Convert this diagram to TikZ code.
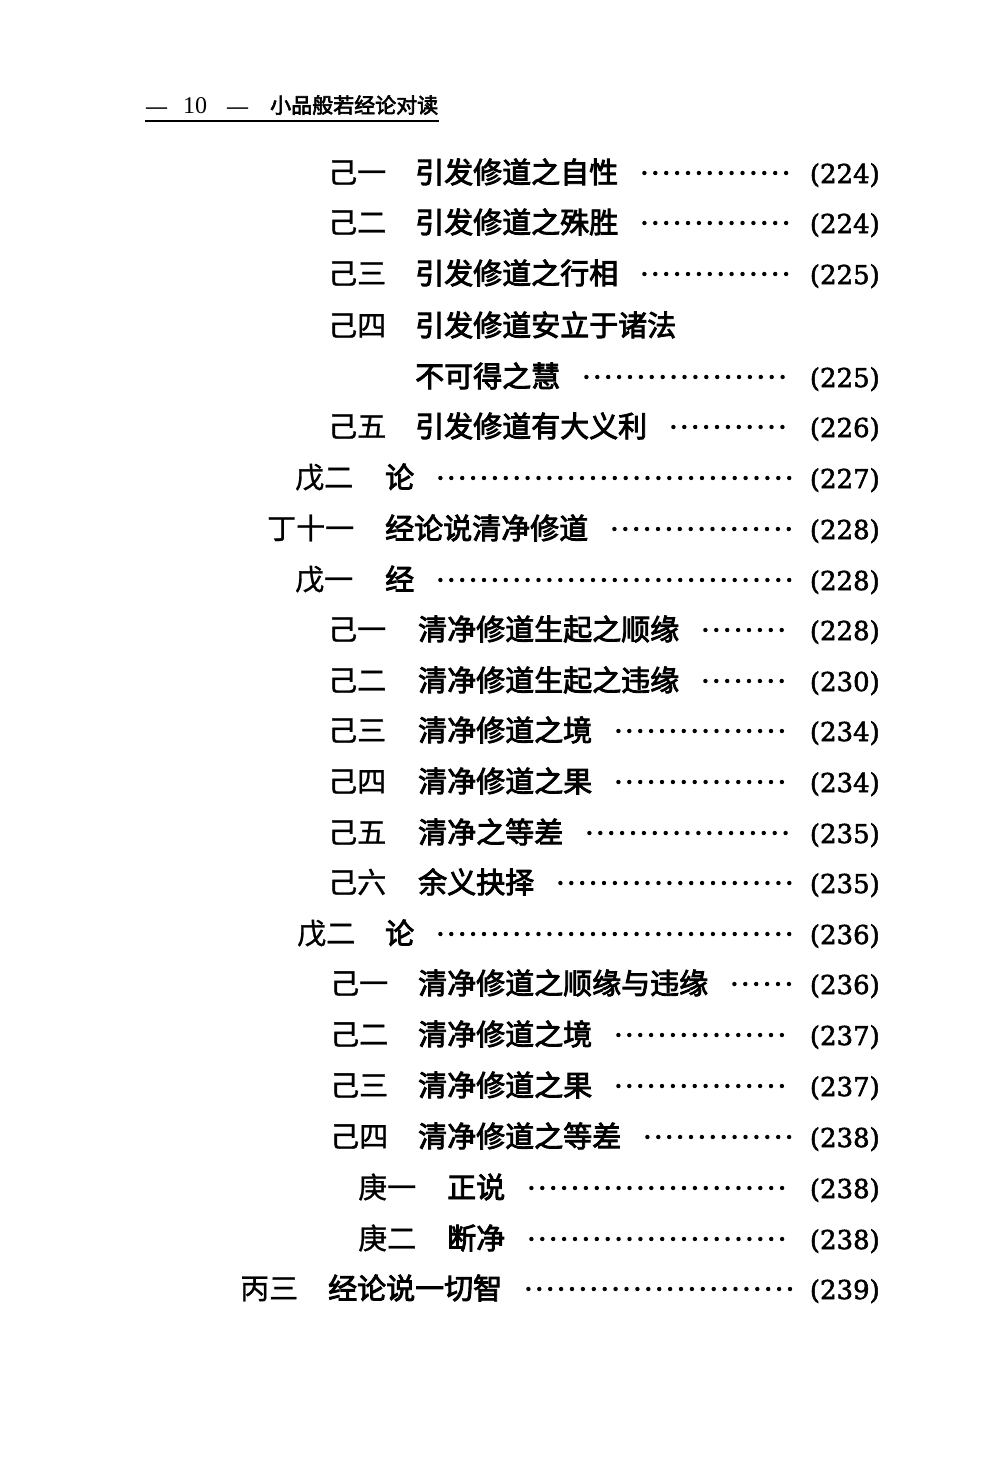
\documentclass[tikz,border=0pt]{standalone}
\usepackage{fontspec}
\setmainfont{Liberation Serif}
\newfontfamily\cjk[FakeBold=1]{Noto Sans CJK SC}
\newfontfamily\cjkt[FakeBold=3]{Noto Sans CJK SC}
\newfontfamily\numfont[FakeBold=2]{DejaVu Serif}
\usetikzlibrary{calc}

\tikzset{
  lab/.style={anchor=base west,inner sep=0pt,font=\cjk\fontsize{29}{29}\selectfont},
  tit/.style={anchor=base west,inner sep=0pt,font=\cjkt\fontsize{29}{29}\selectfont},
  pg/.style={anchor=base east,inner sep=0pt,font=\numfont\fontsize{26}{26}\selectfont},
  hd/.style={anchor=base west,inner sep=0pt,font=\bfseries\fontsize{21}{21}\selectfont},
  hdnum/.style={anchor=base west,inner sep=0pt,font=\fontsize{24}{24}\selectfont},
  hdtit/.style={anchor=base west,inner sep=0pt,font=\cjkt\fontsize{21}{21}\selectfont},
  leader/.style={line width=4.4pt,line cap=round,dash pattern=on 0pt off 10.9pt},
}

\begin{document}
\begin{tikzpicture}[x=1pt,y=-1pt]
\useasboundingbox[fill=white] (0,0) rectangle (982,1464);

% running head
\node[hd] (hdA) at (146,113) {—};
\node[hdnum] (hdN) at (183,113) {10};
\node[hd] (hdB) at (227,113) {—};
\node[hdtit] (hdT) at (270,113) {小品般若经论对读};
\draw[line width=2.5pt] ($(hdA.base west)+(-1,8)$) -- ($(hdT.base east)+(1,8)$);

% 己 entries, first group
\node[lab] (L1) at (328,183) {己一};
\node[tit] (T1) at (415,183) {引发修道之自性};
\node[pg] (P1) at (880,183) {(224)};
\draw[leader] ($(T1.base east)+(26,-10)$) -- ($(P1.base west)+(-18,-10)$);

\node[lab] (L2) at (328,233) {己二};
\node[tit] (T2) at (415,233) {引发修道之殊胜};
\node[pg] (P2) at (880,233) {(224)};
\draw[leader] ($(T2.base east)+(26,-10)$) -- ($(P2.base west)+(-18,-10)$);

\node[lab] (L3) at (328,284) {己三};
\node[tit] (T3) at (415,284) {引发修道之行相};
\node[pg] (P3) at (880,284) {(225)};
\draw[leader] ($(T3.base east)+(26,-10)$) -- ($(P3.base west)+(-18,-10)$);

\node[lab] (L4) at (328,336) {己四};
\node[tit] (T4) at (415,336) {引发修道安立于诸法};
\node[tit] (T5) at (415,387) {不可得之慧};
\node[pg] (P5) at (880,387) {(225)};
\draw[leader] ($(T5.base east)+(26,-10)$) -- ($(P5.base west)+(-18,-10)$);

\node[lab] (L6) at (328,437) {己五};
\node[tit] (T6) at (415,437) {引发修道有大义利};
\node[pg] (P6) at (880,437) {(226)};
\draw[leader] ($(T6.base east)+(26,-10)$) -- ($(P6.base west)+(-18,-10)$);

\node[lab] (L7) at (295,488) {戊二};
\node[tit] (T7) at (385,488) {论};
\node[pg] (P7) at (880,488) {(227)};
\draw[leader] ($(T7.base east)+(26,-10)$) -- ($(P7.base west)+(-18,-10)$);

\node[lab] (L8) at (267,539) {丁十一};
\node[tit] (T8) at (385,539) {经论说清净修道};
\node[pg] (P8) at (880,539) {(228)};
\draw[leader] ($(T8.base east)+(26,-10)$) -- ($(P8.base west)+(-18,-10)$);

\node[lab] (L9) at (295,590) {戊一};
\node[tit] (T9) at (385,590) {经};
\node[pg] (P9) at (880,590) {(228)};
\draw[leader] ($(T9.base east)+(26,-10)$) -- ($(P9.base west)+(-18,-10)$);

% 己 entries under 戊一
\node[lab] (L10) at (328,640) {己一};
\node[tit] (T10) at (418,640) {清净修道生起之顺缘};
\node[pg] (P10) at (880,640) {(228)};
\draw[leader] ($(T10.base east)+(26,-10)$) -- ($(P10.base west)+(-18,-10)$);

\node[lab] (L11) at (328,691) {己二};
\node[tit] (T11) at (418,691) {清净修道生起之违缘};
\node[pg] (P11) at (880,691) {(230)};
\draw[leader] ($(T11.base east)+(26,-10)$) -- ($(P11.base west)+(-18,-10)$);

\node[lab] (L12) at (328,741) {己三};
\node[tit] (T12) at (418,741) {清净修道之境};
\node[pg] (P12) at (880,741) {(234)};
\draw[leader] ($(T12.base east)+(26,-10)$) -- ($(P12.base west)+(-18,-10)$);

\node[lab] (L13) at (328,792) {己四};
\node[tit] (T13) at (418,792) {清净修道之果};
\node[pg] (P13) at (880,792) {(234)};
\draw[leader] ($(T13.base east)+(26,-10)$) -- ($(P13.base west)+(-18,-10)$);

\node[lab] (L14) at (328,843) {己五};
\node[tit] (T14) at (418,843) {清净之等差};
\node[pg] (P14) at (880,843) {(235)};
\draw[leader] ($(T14.base east)+(26,-10)$) -- ($(P14.base west)+(-18,-10)$);

\node[lab] (L15) at (328,893) {己六};
\node[tit] (T15) at (418,893) {余义抉择};
\node[pg] (P15) at (880,893) {(235)};
\draw[leader] ($(T15.base east)+(26,-10)$) -- ($(P15.base west)+(-18,-10)$);

\node[lab] (L16) at (297,944) {戊二};
\node[tit] (T16) at (385,944) {论};
\node[pg] (P16) at (880,944) {(236)};
\draw[leader] ($(T16.base east)+(26,-10)$) -- ($(P16.base west)+(-18,-10)$);

% 己 entries under 戊二
\node[lab] (L17) at (330,994) {己一};
\node[tit] (T17) at (418,994) {清净修道之顺缘与违缘};
\node[pg] (P17) at (880,994) {(236)};
\draw[leader] ($(T17.base east)+(26,-10)$) -- ($(P17.base west)+(-18,-10)$);

\node[lab] (L18) at (330,1045) {己二};
\node[tit] (T18) at (418,1045) {清净修道之境};
\node[pg] (P18) at (880,1045) {(237)};
\draw[leader] ($(T18.base east)+(26,-10)$) -- ($(P18.base west)+(-18,-10)$);

\node[lab] (L19) at (330,1096) {己三};
\node[tit] (T19) at (418,1096) {清净修道之果};
\node[pg] (P19) at (880,1096) {(237)};
\draw[leader] ($(T19.base east)+(26,-10)$) -- ($(P19.base west)+(-18,-10)$);

\node[lab] (L20) at (330,1147) {己四};
\node[tit] (T20) at (418,1147) {清净修道之等差};
\node[pg] (P20) at (880,1147) {(238)};
\draw[leader] ($(T20.base east)+(26,-10)$) -- ($(P20.base west)+(-18,-10)$);

\node[lab] (L21) at (358,1198) {庚一};
\node[tit] (T21) at (447,1198) {正说};
\node[pg] (P21) at (880,1198) {(238)};
\draw[leader] ($(T21.base east)+(26,-10)$) -- ($(P21.base west)+(-18,-10)$);

\node[lab] (L22) at (358,1249) {庚二};
\node[tit] (T22) at (447,1249) {断净};
\node[pg] (P22) at (880,1249) {(238)};
\draw[leader] ($(T22.base east)+(26,-10)$) -- ($(P22.base west)+(-18,-10)$);

\node[lab] (L23) at (240,1299) {丙三};
\node[tit] (T23) at (328,1299) {经论说一切智};
\node[pg] (P23) at (880,1299) {(239)};
\draw[leader] ($(T23.base east)+(26,-10)$) -- ($(P23.base west)+(-18,-10)$);

\end{tikzpicture}
\end{document}
